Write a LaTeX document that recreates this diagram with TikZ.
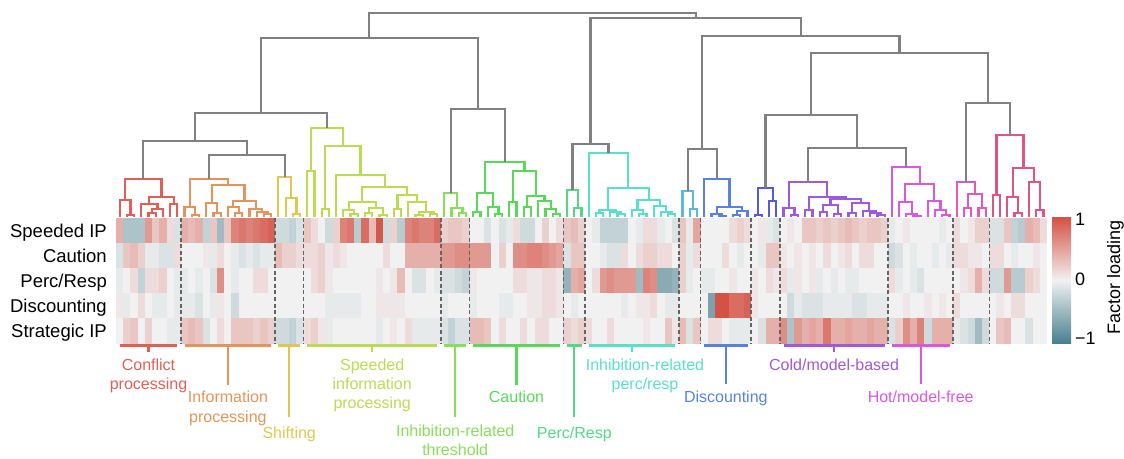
\documentclass[tikz,border=0pt]{standalone}
\usepackage{fontspec}
\setmainfont{Liberation Sans}
\usetikzlibrary{calc}
\definecolor{posc}{RGB}{212,82,68}
\definecolor{negc}{RGB}{72,128,143}
\definecolor{zeroc}{RGB}{241,241,241}
\definecolor{dgray}{RGB}{128,128,128}
\definecolor{sepgray}{RGB}{100,100,100}
\definecolor{cconf}{RGB}{224,96,88}
\definecolor{cinfo}{RGB}{228,148,90}
\definecolor{cshift}{RGB}{222,200,80}
\definecolor{cspeed}{RGB}{188,218,82}
\definecolor{cithr}{RGB}{135,222,90}
\definecolor{ccaut}{RGB}{88,218,88}
\definecolor{cperc}{RGB}{84,216,134}
\definecolor{cipr}{RGB}{88,224,202}
\definecolor{clblue}{RGB}{88,186,226}
\definecolor{cdisc}{RGB}{88,130,222}
\definecolor{cindigo}{RGB}{88,88,222}
\definecolor{ccold}{RGB}{158,88,226}
\definecolor{chot}{RGB}{216,88,226}
\definecolor{cpink}{RGB}{226,88,192}
\definecolor{cdpink}{RGB}{222,84,132}
\newcommand\hmcell[3]{%
  \pgfmathtruncatemacro\hmp{min(100,abs(#3)*1.4)}%
  \ifnum#3<0 \def\hmc{negc}\else\def\hmc{posc}\fi
  \fill[fill=\hmc!\hmp!zeroc] ({116+(#1-1)*7.2171},{217.7+#2*25.12}) rectangle ++(7.6,25.5);
}
\newcommand\mrg[4]{%
  \coordinate (hh) at (0,#4);
  \coordinate (#1) at ($(#2 |- hh)!0.5!(#3 |- hh)$);
  \draw[dlink] (#2) -- (#2 |- hh) -- (#3 |- hh) -- (#3);
}
\newcommand\grpbar[5]{%
  \draw[barl,draw=#3] (L#1 |- bary) -- (L#2 |- bary);
  \coordinate (#5) at ($(L#1 |- bary)!.5!(L#2 |- bary)$);
  \coordinate (te) at (0,#4);
  \draw[tickl,draw=#3] (#5) -- (#5 |- te);
}
\begin{document}
\begin{tikzpicture}[x=1pt,y=-1pt,
  dlink/.style={line width=2.2pt,draw=cur,line join=miter},
  sep/.style={draw=sepgray,line width=1.5pt,dash pattern=on 4pt off 2.6pt},
  barl/.style={line width=3pt},
  tickl/.style={line width=2.2pt},
  lab/.style={font=\fontsize{16}{19.3}\selectfont,align=center,anchor=north,inner sep=0pt},
  rowlab/.style={font=\fontsize{18.5}{22}\selectfont,anchor=base east,inner sep=0pt},
  cblab/.style={font=\fontsize{18}{22}\selectfont,anchor=base west,inner sep=0pt}]
\useasboundingbox (0,0) rectangle (1124,458);
% ---------- heatmap ----------
\foreach \v [count=\i] in {30,-30,-30,-30,40,20,30,10,-10,
30,25,30,-20,20,-35,20,50,55,50,55,60,65,
-15,-15,-20,-10,
20,10,0,-15,15,50,55,-25,60,25,70,-15,15,-25,50,55,50,50,60,
15,20,20,15,
0,0,-10,0,-10,-5,10,-15,-15,0,15,0,10,
20,25,15,
0,-5,-20,-20,-20,-20,0,-5,10,10,-5,0,-10,
20,-5,35,
0,0,0,0,10,15,10,
0,5,-5,-10,
0,5,0,20,20,15,20,15,20,25,20,15,20,20,15,
-5,0,5,0,0,0,0,-5,0,
10,0,5,15,15,
-10,-10,20,-20,-25,30,25,10} {\hmcell{\i}{0}{\v}}
\foreach \v [count=\i] in {-10,20,25,15,-5,-5,-10,-10,10,
0,0,0,5,-5,10,0,-5,-10,-5,-10,-5,-5,
25,15,15,10,
10,10,15,5,10,5,0,0,0,0,0,10,0,0,30,30,30,30,30,
40,40,45,45,
40,40,40,0,15,0,45,45,50,50,45,40,35,
-10,20,20,
0,0,-5,-10,-10,10,0,10,15,15,10,10,0,
15,-5,10,
0,0,0,10,0,-5,0,
0,-5,20,20,
5,0,5,0,5,0,10,0,5,10,0,10,10,0,0,
-15,-10,0,-5,0,0,-5,0,-5,
10,10,5,5,0,
10,10,0,-5,0,0,5,0} {\hmcell{\i}{1}{\v}}
\foreach \v [count=\i] in {-5,0,10,-20,10,10,15,0,-5,
-5,0,-5,0,-10,45,0,-5,0,0,10,10,0,
0,0,0,0,
0,10,15,5,0,0,0,0,0,0,5,0,5,25,0,-10,-10,0,-5,
-10,-10,-15,-20,
5,0,0,0,0,0,10,10,5,5,10,10,5,
-40,30,35,
0,10,40,45,40,40,40,-35,50,45,-45,-45,-40,
15,-5,0,
-5,-5,0,0,5,0,0,
5,0,10,5,
10,-5,5,0,5,-5,0,-5,0,-5,-5,0,0,0,0,
10,-5,0,-5,-10,0,0,0,0,
0,5,10,30,10,
-15,-15,40,-25,-25,15,10,0} {\hmcell{\i}{2}{\v}}
\foreach \v [count=\i] in {5,-5,0,10,0,-5,-5,0,-5,
-5,-5,-10,0,-5,5,0,-15,0,0,0,0,0,
0,0,0,0,
0,0,0,-5,-5,-5,-5,-5,0,0,5,5,5,5,0,0,0,0,0,
-5,0,0,0,
-5,0,0,0,-5,-5,0,0,5,5,10,10,5,
0,-5,0,
0,0,0,0,0,-5,0,5,5,10,0,-5,-5,
0,0,0,
0,-50,80,80,60,60,65,
5,0,0,0,
0,-15,-5,-10,-10,-10,-5,-5,-5,-5,-10,-10,-5,-5,-5,
0,0,5,0,0,5,0,5,0,
10,0,0,0,0,
0,5,0,10,10,0,0,0} {\hmcell{\i}{3}{\v}}
\foreach \v [count=\i] in {0,15,20,0,15,0,0,-5,-5,
20,25,20,-10,0,10,0,20,20,20,15,20,15,
-15,-15,-20,-10,
10,15,5,-5,0,0,0,0,0,0,-5,0,5,0,10,-5,-5,-5,-5,
-10,-20,-10,-10,
25,25,20,0,10,0,0,10,0,10,10,0,0,
15,10,15,
10,0,0,10,0,0,0,0,5,0,0,20,5,
25,-10,20,
0,10,10,0,-5,-5,-5,
0,-10,30,30,
45,-30,40,30,35,30,55,30,30,35,30,30,35,30,30,
-10,15,45,30,50,-15,30,30,30,
-5,-10,-15,-35,-15,
0,20,25,0,0,-10,0,0} {\hmcell{\i}{4}{\v}}
\foreach \c in {9,22,26,45,49,62,65,78,81,88,92,107,116,121}
  \draw[sep] ({116+7.2171*\c},217.7) -- ({116+7.2171*\c},343.3);
% ---------- row labels ----------
\node[rowlab] (r1) at (107,237.3) {Speeded IP};
\node[rowlab] (r2) at (107,262.4) {Caution};
\node[rowlab] (r3) at (107,287.5) {Perc/Resp};
\node[rowlab] (r4) at (107,312.6) {Discounting};
\node[rowlab] (r5) at (107,337.7) {Strategic IP};
% ---------- colour bar ----------
\shade[top color=posc,bottom color=negc,middle color=zeroc] (1052,217.5) rectangle (1071,343);
\node[cblab] (cb1) at (1075,225.5) {1};
\node[cblab] (cb0) at (1075,285) {0};
\node[cblab] (cbm) at (1075,344) {−1};
\node[font=\fontsize{18}{22}\selectfont,rotate=90,anchor=base,inner sep=0pt] (fl) at (1120,277) {Factor loading};
% ---------- leaves ----------
\foreach \i in {1,...,129} {\coordinate (L\i) at ({112.39+7.2171*\i},217);}
% group 1
\colorlet{cur}{cconf}
\mrg{a1}{L5}{L6}{213}\mrg{a2}{a1}{L7}{209}\mrg{a3}{L4}{a2}{204}
\mrg{a4}{L8}{L9}{204}\mrg{a5}{a3}{a4}{197}\mrg{a6}{L2}{L3}{215}
\mrg{a7}{L1}{a6}{200}\mrg{A}{a7}{a5}{179}
% group 2
\colorlet{cur}{cinfo}
\mrg{b1}{L11}{L12}{215}\mrg{b2}{L10}{b1}{207}\mrg{b3}{L14}{L15}{213}
\mrg{b4}{L13}{b3}{203}\mrg{b5}{L21}{L22}{214}\mrg{b6}{L20}{b5}{212}
\mrg{b7}{L19}{b6}{209}\mrg{b8}{L17}{L18}{213}\mrg{b9}{L16}{b8}{207}
\mrg{b10}{b9}{b7}{201}\mrg{b11}{b4}{b10}{185}\mrg{B}{b2}{b11}{179}
% group 3
\colorlet{cur}{cshift}
\mrg{c1}{L25}{L26}{214}\mrg{c2}{L24}{c1}{198}\mrg{C}{L23}{c2}{177}
% group 4
\colorlet{cur}{cspeed}
\mrg{d1}{L27}{L28}{171}\mrg{d2}{L29}{L30}{209}\mrg{d3}{L33}{L34}{214}
\mrg{d4}{L32}{d3}{210}\mrg{d5}{L35}{L36}{213}\mrg{d6}{L37}{L38}{215}
\mrg{d7}{d5}{d6}{208}\mrg{d8}{d4}{d7}{202}\mrg{d9}{L39}{L40}{209}
\mrg{d10}{L42}{L43}{215}\mrg{d11}{L44}{L45}{214}\mrg{d12}{d10}{d11}{212}
\mrg{d13}{L41}{d12}{202}\mrg{d14}{d9}{d13}{195}\mrg{d15}{d8}{d14}{187}
\mrg{d16}{L31}{d15}{175}\mrg{d17}{d2}{d16}{146}\mrg{D}{d1}{d17}{128}
% group 5
\colorlet{cur}{cithr}
\mrg{e1}{L48}{L49}{213}\mrg{e2}{L47}{e1}{208}\mrg{E}{L46}{e2}{193}
% group 6
\colorlet{cur}{ccaut}
\mrg{f1}{L50}{L51}{212}\mrg{f2}{L53}{L54}{214}\mrg{f3}{L52}{f2}{207}
\mrg{f4}{f1}{f3}{193}\mrg{f5}{L55}{L56}{202}\mrg{f6}{L57}{L58}{207}
\mrg{f7}{L61}{L62}{214}\mrg{f8}{L60}{f7}{209}\mrg{f9}{L59}{f8}{201}
\mrg{f10}{f6}{f9}{196}\mrg{f11}{f5}{f10}{171}\mrg{F}{f4}{f11}{162}
% group 7
\colorlet{cur}{cperc}
\mrg{g1}{L64}{L65}{208}\mrg{G}{L63}{g1}{190}
% group 8
\colorlet{cur}{cipr}
\mrg{h1}{L67}{L68}{213}\mrg{h2}{L70}{L71}{214}\mrg{h3}{L69}{h2}{212}
\mrg{h4}{h1}{h3}{210}\mrg{h5}{L73}{L74}{214}\mrg{h6}{L72}{h5}{210}
\mrg{h7}{L77}{L78}{214}\mrg{h8}{L76}{h7}{212}\mrg{h9}{L75}{h8}{206}
\mrg{h10}{h6}{h9}{200}\mrg{h11}{h4}{h10}{188}\mrg{H}{L66}{h11}{153}
% group 9
\colorlet{cur}{clblue}
\mrg{i1}{L80}{L81}{209}\mrg{I}{L79}{i1}{191}
% group 10
\colorlet{cur}{cdisc}
\mrg{j1}{L84}{L85}{216}\mrg{j2}{L83}{j1}{214}\mrg{j3}{L86}{L87}{215}
\mrg{j4}{j3}{L88}{211}\mrg{j5}{j2}{j4}{207}\mrg{J}{L82}{j5}{179}
% group 11
\colorlet{cur}{cindigo}
\mrg{k1}{L89}{L90}{215}\mrg{k2}{L91}{L92}{201}\mrg{K}{k1}{k2}{188}
% group 12
\colorlet{cur}{ccold}
\mrg{m1}{L94}{L95}{215}\mrg{m2}{L93}{m1}{208}\mrg{m3}{L96}{L97}{210}
\mrg{m4}{L98}{L99}{212}\mrg{m5}{L100}{L101}{214}\mrg{m6}{m4}{m5}{205}
\mrg{m7}{L102}{L103}{213}\mrg{m8}{L106}{L107}{215}\mrg{m9}{L105}{m8}{213}
\mrg{m10}{L104}{m9}{211}\mrg{m11}{m7}{m10}{203}\mrg{m12}{m6}{m11}{199}
\mrg{m13}{m3}{m12}{197}\mrg{M}{m2}{m13}{182}
% group 13
\colorlet{cur}{chot}
\mrg{n1}{L111}{L112}{216}\mrg{n2}{L110}{n1}{214}\mrg{n3}{L109}{n2}{202}
\mrg{n4}{L115}{L116}{215}\mrg{n5}{L114}{n4}{210}\mrg{n6}{L113}{n5}{201}
\mrg{n7}{n3}{n6}{184}\mrg{N}{L108}{n7}{167}
% group 14
\colorlet{cur}{cpink}
\mrg{p1}{L118}{L119}{208}\mrg{p2}{L120}{L121}{208}\mrg{p3}{p1}{p2}{194}
\mrg{P}{L117}{p3}{182}
% group 15
\colorlet{cur}{cdpink}
\mrg{q1}{L122}{L123}{195}\mrg{q2}{L125}{L126}{213}\mrg{q3}{L124}{q2}{197}
\mrg{q4}{L128}{L129}{210}\mrg{q5}{L127}{q4}{182}\mrg{q6}{q3}{q5}{168}
\mrg{Q}{q1}{q6}{135}
% gray upper tree
\colorlet{cur}{dgray}
\mrg{GA}{B}{C}{155}\mrg{GB}{A}{GA}{141}\mrg{GC}{GB}{D}{113}
\mrg{GD}{E}{F}{109}\mrg{GE}{GC}{GD}{38}
\mrg{GF}{G}{H}{144}\mrg{GG}{I}{J}{149}
\mrg{GH1}{M}{N}{148}\mrg{GH}{K}{GH1}{115}\mrg{GI}{P}{Q}{103}
\mrg{GJ}{GH}{GI}{53}\mrg{GK}{GG}{GJ}{36}\mrg{GL}{GF}{GK}{18}
\mrg{ROOT}{GE}{GL}{13}
% ---------- group bars, ticks and labels ----------
\coordinate (bary) at (0,345.5);
\grpbar{1}{9}{cconf}{352}{t1}
\grpbar{10}{22}{cinfo}{385}{t2}
\grpbar{23}{26}{cshift}{417}{t3}
\grpbar{27}{45}{cspeed}{352}{t4}
\grpbar{46}{49}{cithr}{417}{t5}
\grpbar{50}{62}{ccaut}{385}{t6}
\grpbar{63}{65}{cperc}{417}{t7}
\grpbar{66}{78}{cipr}{352}{t8}
\grpbar{82}{88}{cdisc}{384}{t10}
\grpbar{93}{107}{ccold}{352}{t12}
\grpbar{108}{116}{chot}{384}{t13}
\node[lab,text=cconf] (l1) at (148.5,358.5) {Conflict\\processing};
\node[lab,text=cinfo] (l2) at (227.9,391) {Information\\processing};
\node[lab,text=cshift] (l3) at (289.2,426.5) {Shifting};
\node[lab,text=cspeed] (l4) at (372.2,358.5) {Speeded\\information\\processing};
\node[lab,text=cithr] (l5) at (455.2,424.5) {Inhibition-related\\threshold};
\node[lab,text=ccaut] (l6) at (516.5,391) {Caution};
\node[lab,text=cperc] (l7) at (574.3,426.5) {Perc/Resp};
\node[lab,text=cipr] (l8) at (645,358.5) {Inhibition-related\\perc/resp};
\node[lab,text=cdisc] (l10) at (725.8,390.5) {Discounting};
\node[lab,text=ccold] (l12) at (834.1,358.5) {Cold/model-based};
\node[lab,text=chot] (l13) at (920.7,390.5) {Hot/model-free};
\end{tikzpicture}
\end{document}
